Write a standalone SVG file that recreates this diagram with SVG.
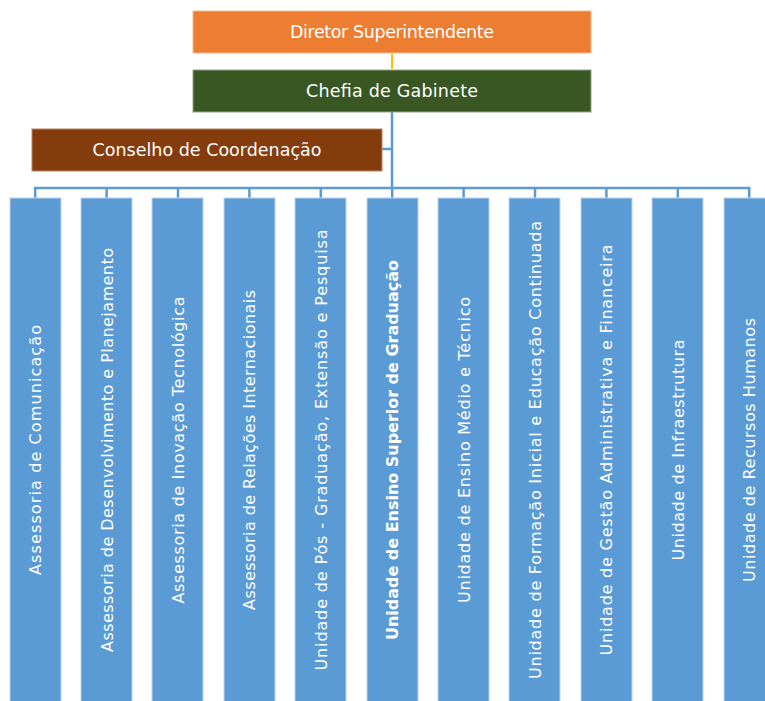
<svg xmlns="http://www.w3.org/2000/svg" width="765" height="701" viewBox="0 0 765 701">
<style>
text{font-family:"DejaVu Sans","Liberation Sans",sans-serif;fill:#ffffff}
.top{font-size:17.5px;text-anchor:middle}
.col{font-size:16px;text-anchor:middle}
.colbox{fill:#5B9BD5;stroke:#BDD4EE;stroke-width:1}
.conn{stroke:#5B9BD5;stroke-width:2.5;fill:none}
.b{font-weight:bold}
</style>
<rect width="765" height="701" fill="#ffffff"/>
<g id="connectors">
<line x1="392" y1="54" x2="392" y2="69" stroke="#FFC000" stroke-width="2"/>
<polyline class="conn" points="392,112 392,188"/>
<polyline class="conn" points="382,149 392,149"/>
<polyline class="conn" points="35.2,198 35.2,188 749.2,188 749.2,198"/>
<line class="conn" x1="106.6" y1="188" x2="106.6" y2="198"/>
<line class="conn" x1="178" y1="188" x2="178" y2="198"/>
<line class="conn" x1="249.4" y1="188" x2="249.4" y2="198"/>
<line class="conn" x1="320.8" y1="188" x2="320.8" y2="198"/>
<line class="conn" x1="392.2" y1="188" x2="392.2" y2="198"/>
<line class="conn" x1="463.6" y1="188" x2="463.6" y2="198"/>
<line class="conn" x1="535" y1="188" x2="535" y2="198"/>
<line class="conn" x1="606.4" y1="188" x2="606.4" y2="198"/>
<line class="conn" x1="677.8" y1="188" x2="677.8" y2="198"/>
</g>
<g id="diretor">
<rect x="193" y="11" width="398" height="42" fill="#ED7D31" stroke="#F5B990" stroke-width="1"/>
<text class="top" x="392" y="38" textLength="204">Diretor Superintendente</text>
</g>
<g id="chefia">
<rect x="193" y="70" width="398" height="42" fill="#385723" stroke="#8FA882" stroke-width="1"/>
<text class="top" x="392" y="97" textLength="172">Chefia de Gabinete</text>
</g>
<g id="conselho">
<rect x="32" y="129" width="350" height="42" fill="#843C0C" stroke="#B8876A" stroke-width="1"/>
<text class="top" x="207" y="156" textLength="229">Conselho de Coordenação</text>
</g>
<g id="c1"><rect class="colbox" x="10" y="198" width="51" height="504"/><text class="col" transform="translate(35.2,450) rotate(-90)" y="6" textLength="250">Assessoria de Comunicação</text></g>
<g id="c2"><rect class="colbox" x="81" y="198" width="51" height="504"/><text class="col" transform="translate(106.6,450) rotate(-90)" y="6" textLength="404">Assessoria de Desenvolvimento e Planejamento</text></g>
<g id="c3"><rect class="colbox" x="152" y="198" width="51" height="504"/><text class="col" transform="translate(178,450) rotate(-90)" y="6" textLength="307">Assessoria de Inovação Tecnológica</text></g>
<g id="c4"><rect class="colbox" x="224" y="198" width="51" height="504"/><text class="col" transform="translate(249.4,450) rotate(-90)" y="6" textLength="320">Assessoria de Relações Internacionais</text></g>
<g id="c5"><rect class="colbox" x="295" y="198" width="51" height="504"/><text class="col" transform="translate(320.8,450) rotate(-90)" y="6" textLength="441">Unidade de Pós - Graduação, Extensão e Pesquisa</text></g>
<g id="c6"><rect class="colbox" x="367" y="198" width="51" height="504"/><text class="col b" transform="translate(392.2,450) rotate(-90)" y="6" textLength="380">Unidade de Ensino Superior de Graduação</text></g>
<g id="c7"><rect class="colbox" x="438" y="198" width="51" height="504"/><text class="col" transform="translate(463.6,450) rotate(-90)" y="6" textLength="306">Unidade de Ensino Médio e Técnico</text></g>
<g id="c8"><rect class="colbox" x="509" y="198" width="51" height="504"/><text class="col" transform="translate(535,450) rotate(-90)" y="6" textLength="458">Unidade de Formação Inicial e Educação Continuada</text></g>
<g id="c9"><rect class="colbox" x="581" y="198" width="51" height="504"/><text class="col" transform="translate(606.4,450) rotate(-90)" y="6" textLength="411">Unidade de Gestão Administrativa e Financeira</text></g>
<g id="c10"><rect class="colbox" x="652" y="198" width="51" height="504"/><text class="col" transform="translate(677.8,450) rotate(-90)" y="6" textLength="221">Unidade de Infraestrutura</text></g>
<g id="c11"><rect class="colbox" x="724" y="198" width="51" height="504"/><text class="col" transform="translate(749.2,450) rotate(-90)" y="6" textLength="264">Unidade de Recursos Humanos</text></g>
</svg>
